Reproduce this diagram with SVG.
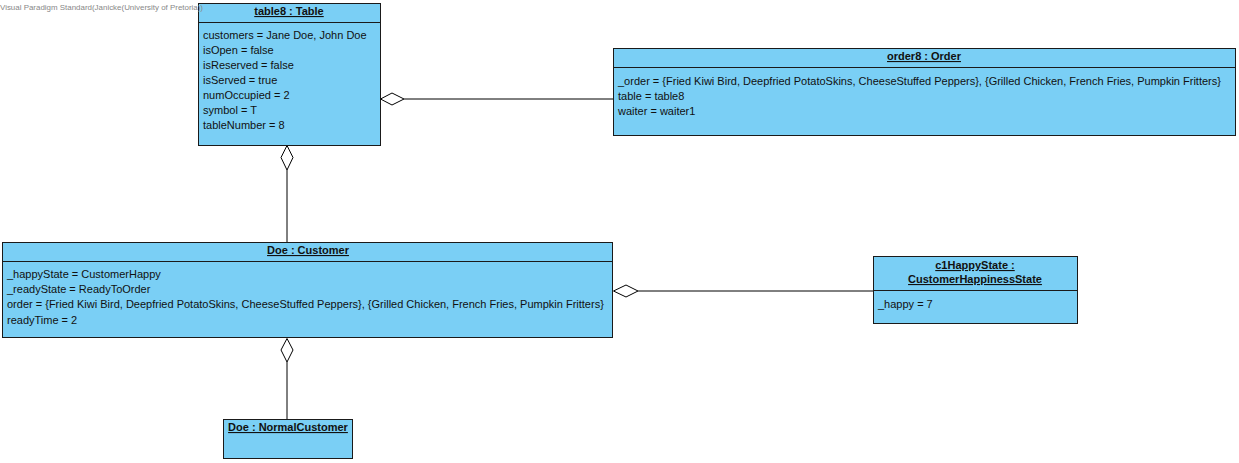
<svg xmlns="http://www.w3.org/2000/svg" width="1239" height="463" viewBox="0 0 1239 463">
<style>
.box{fill:#7ACFF5;stroke:#1a1a1a;stroke-width:1}
.sep{stroke:#1a1a1a;stroke-width:1}
.t{font-family:"Liberation Sans",Arial,sans-serif;font-size:11px;fill:#111}
.h{font-family:"Liberation Sans",Arial,sans-serif;font-size:11px;font-weight:bold;fill:#111;text-decoration:underline;text-anchor:middle}
.wm{font-family:"Liberation Sans",Arial,sans-serif;font-size:8px;fill:#888}
.ln{stroke:#000;stroke-width:1;fill:none}
.dia{stroke:#000;stroke-width:1;fill:#fff}
</style>
<rect width="1239" height="463" fill="#fff"/>
<g id="connectors">
<line class="ln" x1="404" y1="99" x2="613" y2="99"/>
<polygon class="dia" points="380.5,99 392,93 404,99 392,105"/>
<line class="ln" x1="287" y1="170" x2="287" y2="242"/>
<polygon class="dia" points="287,145.5 293,157.5 287,170 281,157.5"/>
<line class="ln" x1="638" y1="291" x2="873" y2="291"/>
<polygon class="dia" points="613.5,291 626,285 638,291 626,297"/>
<line class="ln" x1="287" y1="362" x2="287" y2="419"/>
<polygon class="dia" points="287,338.5 293,350 287,362 281,350"/>
</g>
<g id="table8">
<rect class="box" x="198.5" y="3.5" width="182" height="142"/>
<line class="sep" x1="198.5" y1="22.5" x2="380.5" y2="22.5"/>
<text class="h" x="289" y="15">table8 : Table</text>
<text class="t" x="203" y="39">customers = Jane Doe, John Doe</text>
<text class="t" x="203" y="54">isOpen = false</text>
<text class="t" x="203" y="69">isReserved = false</text>
<text class="t" x="203" y="84">isServed = true</text>
<text class="t" x="203" y="99">numOccupied = 2</text>
<text class="t" x="203" y="114">symbol = T</text>
<text class="t" x="203" y="129">tableNumber = 8</text>
</g>
<g id="order8">
<rect class="box" x="613.5" y="48.5" width="622" height="87"/>
<line class="sep" x1="613.5" y1="67.5" x2="1235.5" y2="67.5"/>
<text class="h" x="924" y="60">order8 : Order</text>
<text class="t" x="618" y="85">_order = {Fried Kiwi Bird, Deepfried PotatoSkins, CheeseStuffed Peppers}, {Grilled Chicken, French Fries, Pumpkin Fritters}</text>
<text class="t" x="618" y="100">table = table8</text>
<text class="t" x="618" y="115">waiter = waiter1</text>
</g>
<g id="customer">
<rect class="box" x="2.5" y="242.5" width="610" height="95"/>
<line class="sep" x1="2.5" y1="261.5" x2="612.5" y2="261.5"/>
<text class="h" x="308" y="254">Doe : Customer</text>
<text class="t" x="7" y="278">_happyState = CustomerHappy</text>
<text class="t" x="7" y="293">_readyState = ReadyToOrder</text>
<text class="t" x="7" y="308">order = {Fried Kiwi Bird, Deepfried PotatoSkins, CheeseStuffed Peppers}, {Grilled Chicken, French Fries, Pumpkin Fritters}</text>
<text class="t" x="7" y="324">readyTime = 2</text>
</g>
<g id="c1HappyState">
<rect class="box" x="873.5" y="256.5" width="204" height="67"/>
<line class="sep" x1="873.5" y1="290.5" x2="1077.5" y2="290.5"/>
<text class="h" x="975" y="269">c1HappyState :</text>
<text class="h" x="975" y="283">CustomerHappinessState</text>
<text class="t" x="878" y="308">_happy = 7</text>
</g>
<g id="normalCustomer">
<rect class="box" x="223.5" y="419.5" width="129" height="39"/>
<text class="h" x="288" y="431">Doe : NormalCustomer</text>
</g>
<text class="wm" x="0" y="10" textLength="203" lengthAdjust="spacingAndGlyphs">Visual Paradigm Standard(Janicke(University of Pretoria))</text>
</svg>
